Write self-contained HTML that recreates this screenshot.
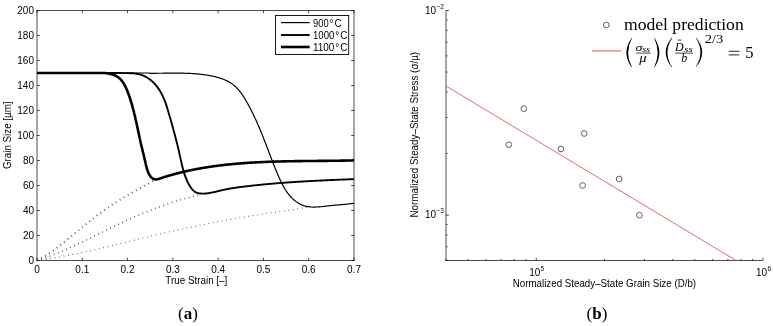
<!DOCTYPE html>
<html><head><meta charset="utf-8"><style>
html,body{margin:0;padding:0;background:#fff;}
svg{display:block;will-change:transform;}
text{font-family:"Liberation Sans",sans-serif;font-size:10px;fill:#000;}
.serif{font-family:"Liberation Serif",serif;}
</style></head><body>
<svg width="774" height="326" viewBox="0 0 774 326">
<path d="M36.5,10.5 H354.5 M36.5,260.5 H354.5" stroke="#505050" stroke-width="1" fill="none"/>
<path d="M37.0,10.5 V260.5 M354.0,10.5 V260.5" stroke="#000" stroke-width="0.7" fill="none"/>
<line x1="37.00" y1="260.5" x2="37.00" y2="257.7" stroke="#000" stroke-width="0.7"/>
<line x1="37.00" y1="10.5" x2="37.00" y2="13.3" stroke="#000" stroke-width="0.7"/>
<text x="37.00" y="273.20" text-anchor="middle">0</text>
<line x1="82.29" y1="260.5" x2="82.29" y2="257.7" stroke="#000" stroke-width="0.7"/>
<line x1="82.29" y1="10.5" x2="82.29" y2="13.3" stroke="#000" stroke-width="0.7"/>
<text x="82.29" y="273.20" text-anchor="middle">0.1</text>
<line x1="127.57" y1="260.5" x2="127.57" y2="257.7" stroke="#000" stroke-width="0.7"/>
<line x1="127.57" y1="10.5" x2="127.57" y2="13.3" stroke="#000" stroke-width="0.7"/>
<text x="127.57" y="273.20" text-anchor="middle">0.2</text>
<line x1="172.86" y1="260.5" x2="172.86" y2="257.7" stroke="#000" stroke-width="0.7"/>
<line x1="172.86" y1="10.5" x2="172.86" y2="13.3" stroke="#000" stroke-width="0.7"/>
<text x="172.86" y="273.20" text-anchor="middle">0.3</text>
<line x1="218.14" y1="260.5" x2="218.14" y2="257.7" stroke="#000" stroke-width="0.7"/>
<line x1="218.14" y1="10.5" x2="218.14" y2="13.3" stroke="#000" stroke-width="0.7"/>
<text x="218.14" y="273.20" text-anchor="middle">0.4</text>
<line x1="263.43" y1="260.5" x2="263.43" y2="257.7" stroke="#000" stroke-width="0.7"/>
<line x1="263.43" y1="10.5" x2="263.43" y2="13.3" stroke="#000" stroke-width="0.7"/>
<text x="263.43" y="273.20" text-anchor="middle">0.5</text>
<line x1="308.71" y1="260.5" x2="308.71" y2="257.7" stroke="#000" stroke-width="0.7"/>
<line x1="308.71" y1="10.5" x2="308.71" y2="13.3" stroke="#000" stroke-width="0.7"/>
<text x="308.71" y="273.20" text-anchor="middle">0.6</text>
<line x1="354.00" y1="260.5" x2="354.00" y2="257.7" stroke="#000" stroke-width="0.7"/>
<line x1="354.00" y1="10.5" x2="354.00" y2="13.3" stroke="#000" stroke-width="0.7"/>
<text x="354.00" y="273.20" text-anchor="middle">0.7</text>
<line x1="37.0" y1="260.50" x2="39.8" y2="260.50" stroke="#000" stroke-width="0.7"/>
<line x1="354.0" y1="260.50" x2="351.2" y2="260.50" stroke="#000" stroke-width="0.7"/>
<text x="34.00" y="264.40" text-anchor="end">0</text>
<line x1="37.0" y1="235.50" x2="39.8" y2="235.50" stroke="#000" stroke-width="0.7"/>
<line x1="354.0" y1="235.50" x2="351.2" y2="235.50" stroke="#000" stroke-width="0.7"/>
<text x="34.00" y="239.40" text-anchor="end">20</text>
<line x1="37.0" y1="210.50" x2="39.8" y2="210.50" stroke="#000" stroke-width="0.7"/>
<line x1="354.0" y1="210.50" x2="351.2" y2="210.50" stroke="#000" stroke-width="0.7"/>
<text x="34.00" y="214.40" text-anchor="end">40</text>
<line x1="37.0" y1="185.50" x2="39.8" y2="185.50" stroke="#000" stroke-width="0.7"/>
<line x1="354.0" y1="185.50" x2="351.2" y2="185.50" stroke="#000" stroke-width="0.7"/>
<text x="34.00" y="189.40" text-anchor="end">60</text>
<line x1="37.0" y1="160.50" x2="39.8" y2="160.50" stroke="#000" stroke-width="0.7"/>
<line x1="354.0" y1="160.50" x2="351.2" y2="160.50" stroke="#000" stroke-width="0.7"/>
<text x="34.00" y="164.40" text-anchor="end">80</text>
<line x1="37.0" y1="135.50" x2="39.8" y2="135.50" stroke="#000" stroke-width="0.7"/>
<line x1="354.0" y1="135.50" x2="351.2" y2="135.50" stroke="#000" stroke-width="0.7"/>
<text x="34.00" y="139.40" text-anchor="end">100</text>
<line x1="37.0" y1="110.50" x2="39.8" y2="110.50" stroke="#000" stroke-width="0.7"/>
<line x1="354.0" y1="110.50" x2="351.2" y2="110.50" stroke="#000" stroke-width="0.7"/>
<text x="34.00" y="114.40" text-anchor="end">120</text>
<line x1="37.0" y1="85.50" x2="39.8" y2="85.50" stroke="#000" stroke-width="0.7"/>
<line x1="354.0" y1="85.50" x2="351.2" y2="85.50" stroke="#000" stroke-width="0.7"/>
<text x="34.00" y="89.40" text-anchor="end">140</text>
<line x1="37.0" y1="60.50" x2="39.8" y2="60.50" stroke="#000" stroke-width="0.7"/>
<line x1="354.0" y1="60.50" x2="351.2" y2="60.50" stroke="#000" stroke-width="0.7"/>
<text x="34.00" y="64.40" text-anchor="end">160</text>
<line x1="37.0" y1="35.50" x2="39.8" y2="35.50" stroke="#000" stroke-width="0.7"/>
<line x1="354.0" y1="35.50" x2="351.2" y2="35.50" stroke="#000" stroke-width="0.7"/>
<text x="34.00" y="39.40" text-anchor="end">180</text>
<line x1="37.0" y1="10.50" x2="39.8" y2="10.50" stroke="#000" stroke-width="0.7"/>
<line x1="354.0" y1="10.50" x2="351.2" y2="10.50" stroke="#000" stroke-width="0.7"/>
<text x="34.00" y="14.40" text-anchor="end">200</text>
<path d="M37.00,73.00 L37.44,73.00 L37.87,73.00 L38.31,73.00 L38.74,73.00 L39.18,73.00 L39.61,73.00 L40.05,73.00 L40.48,73.00 L40.92,73.00 L41.36,73.00 L41.79,73.00 L42.23,73.00 L42.66,73.00 L43.10,73.00 L43.53,73.00 L43.97,73.00 L44.40,73.00 L44.84,73.00 L45.28,73.00 L45.71,73.00 L46.15,73.00 L46.58,73.00 L47.02,73.00 L47.45,73.00 L47.89,73.00 L48.33,73.00 L48.76,73.00 L49.20,73.00 L49.63,73.00 L50.07,73.00 L50.50,73.00 L50.94,73.00 L51.38,73.00 L51.81,73.00 L52.25,73.00 L52.68,73.00 L53.12,73.00 L53.56,73.00 L53.99,73.00 L54.43,73.00 L54.86,73.00 L55.30,73.00 L55.74,73.00 L56.17,73.00 L56.61,73.00 L57.04,73.00 L57.48,73.00 L57.92,73.00 L58.35,73.00 L58.79,73.00 L59.22,73.00 L59.66,73.00 L60.10,73.00 L60.53,73.00 L60.97,73.00 L61.40,73.00 L61.84,73.00 L62.28,73.00 L62.71,73.00 L63.15,73.00 L63.58,73.00 L64.02,73.00 L64.46,73.00 L64.89,73.00 L65.33,73.00 L65.76,73.00 L66.20,73.00 L66.64,73.00 L67.07,73.00 L67.51,73.00 L67.94,73.00 L68.38,73.00 L68.82,73.00 L69.25,73.00 L69.69,73.00 L70.12,73.00 L70.56,73.00 L71.00,73.00 L71.43,73.00 L71.87,73.00 L72.31,73.00 L72.74,73.00 L73.18,73.00 L73.61,73.00 L74.05,73.00 L74.49,73.00 L74.92,73.00 L75.36,73.00 L75.79,73.00 L76.23,73.00 L76.67,73.00 L77.10,73.00 L77.54,73.00 L77.97,73.00 L78.41,73.00 L78.85,73.00 L79.28,73.00 L79.72,73.00 L80.16,73.00 L80.59,73.00 L81.03,73.00 L81.46,73.00 L81.90,73.00 L82.34,73.00 L82.77,73.00 L83.21,73.00 L83.64,73.00 L84.08,73.00 L84.52,73.00 L84.95,73.00 L85.39,73.00 L85.82,73.00 L86.26,73.00 L86.70,73.00 L87.13,73.00 L87.57,73.00 L88.00,73.00 L88.44,73.00 L88.88,73.00 L89.31,73.00 L89.75,73.00 L90.18,73.00 L90.62,73.00 L91.06,73.00 L91.49,73.00 L91.93,73.00 L92.36,73.00 L92.80,73.00 L93.24,73.00 L93.67,73.00 L94.11,73.00 L94.54,73.00 L94.98,73.00 L95.42,73.00 L95.85,73.00 L96.29,73.00 L96.72,73.00 L97.16,73.00 L97.60,73.00 L98.03,73.00 L98.47,73.00 L98.90,73.00 L99.34,73.00 L99.78,73.00 L100.21,73.00 L100.65,73.00 L101.08,73.00 L101.52,73.00 L101.95,73.00 L102.39,73.00 L102.83,73.00 L103.26,73.00 L103.70,73.00 L104.13,73.00 L104.57,73.00 L105.00,73.00 L105.44,73.00 L105.88,73.00 L106.31,73.00 L106.75,73.00 L107.18,73.00 L107.62,73.00 L108.05,73.00 L108.49,73.00 L108.93,73.00 L109.36,73.00 L109.80,73.00 L110.23,73.00 L110.67,73.00 L111.10,73.00 L111.54,73.00 L111.97,73.00 L112.41,73.00 L112.85,73.00 L113.28,73.00 L113.72,73.00 L114.15,73.00 L114.59,73.00 L115.02,73.00 L115.46,73.00 L115.89,73.00 L116.33,73.00 L116.77,73.00 L117.20,73.00 L117.64,73.00 L118.07,73.00 L118.51,73.00 L118.94,73.00 L119.38,73.00 L119.81,73.00 L120.25,73.00 L120.69,73.00 L121.12,73.00 L121.56,73.00 L121.99,73.00 L122.43,73.00 L122.86,73.00 L123.30,73.00 L123.73,73.00 L124.17,73.00 L124.60,73.00 L125.04,73.00 L125.48,73.00 L125.91,73.00 L126.35,73.00 L126.78,73.00 L127.22,73.00 L127.65,73.00 L128.09,73.00 L128.52,73.00 L128.96,73.00 L129.40,73.00 L129.83,73.00 L130.27,73.00 L130.70,73.00 L131.14,73.00 L131.57,73.00 L132.01,73.00 L132.44,73.00 L132.88,73.00 L133.32,73.00 L133.75,73.00 L134.19,73.00 L134.62,73.00 L135.06,73.00 L135.49,73.00 L135.93,73.00 L136.37,73.00 L136.80,73.00 L137.24,73.00 L137.67,73.00 L138.11,73.00 L138.54,73.00 L138.98,73.00 L139.42,73.00 L139.85,73.00 L140.29,73.00 L140.72,73.00 L141.16,73.00 L141.59,73.00 L142.03,73.00 L142.47,73.00 L142.90,73.00 L143.34,73.00 L143.77,73.00 L144.21,73.00 L144.64,73.00 L145.08,73.00 L145.52,73.00 L145.95,73.00 L146.39,73.00 L146.82,73.00 L147.26,73.00 L147.70,73.00 L148.13,73.00 L148.57,73.00 L149.00,73.00 L149.44,73.00 L149.88,73.00 L150.31,73.29 L150.75,73.29 L151.18,73.29 L151.62,73.29 L152.06,73.29 L152.49,73.29 L152.93,73.29 L153.36,73.29 L153.80,73.28 L154.24,73.28 L154.67,73.28 L155.11,73.28 L155.55,73.28 L155.98,73.28 L156.42,73.28 L156.85,73.28 L157.29,73.27 L157.73,73.27 L158.16,73.27 L158.60,73.27 L159.04,73.26 L159.47,73.26 L159.91,73.26 L160.35,73.25 L160.78,73.25 L161.22,73.25 L161.66,73.24 L162.09,73.24 L162.53,73.23 L162.97,73.23 L163.40,73.22 L163.84,73.22 L164.28,73.21 L164.71,73.21 L165.15,73.20 L165.59,73.20 L166.02,73.20 L166.46,73.19 L166.90,73.19 L167.33,73.18 L167.77,73.18 L168.21,73.17 L168.64,73.17 L169.08,73.16 L169.52,73.16 L169.95,73.16 L170.39,73.15 L170.82,73.15 L171.26,73.14 L171.70,73.14 L172.13,73.14 L172.57,73.14 L173.01,73.13 L173.44,73.13 L173.88,73.13 L174.32,73.13 L174.75,73.13 L175.19,73.12 L175.63,73.12 L176.06,73.12 L176.50,73.12 L176.94,73.12 L177.37,73.13 L177.81,73.13 L178.24,73.13 L178.68,73.13 L179.12,73.13 L179.55,73.14 L179.99,73.14 L180.42,73.15 L180.86,73.15 L181.30,73.16 L181.73,73.16 L182.17,73.17 L182.60,73.18 L183.04,73.19 L183.47,73.20 L183.91,73.20 L184.35,73.21 L184.78,73.23 L185.22,73.24 L185.65,73.25 L186.09,73.26 L186.52,73.28 L186.96,73.29 L187.39,73.31 L187.83,73.32 L188.26,73.34 L188.70,73.36 L189.13,73.38 L189.57,73.40 L190.00,73.42 L190.44,73.44 L190.87,73.46 L191.31,73.49 L191.74,73.51 L192.17,73.54 L192.61,73.56 L193.04,73.59 L193.48,73.62 L193.91,73.65 L194.34,73.68 L194.78,73.71 L195.21,73.74 L195.65,73.78 L196.08,73.81 L196.51,73.85 L196.95,73.89 L197.38,73.93 L197.81,73.97 L198.25,74.01 L198.68,74.05 L199.11,74.09 L199.54,74.14 L199.98,74.19 L200.41,74.23 L200.84,74.28 L201.27,74.33 L201.71,74.38 L202.14,74.44 L202.57,74.49 L203.00,74.55 L203.43,74.60 L203.87,74.66 L204.30,74.72 L204.73,74.78 L205.16,74.85 L205.59,74.91 L206.02,74.98 L206.45,75.04 L206.88,75.11 L207.31,75.18 L207.74,75.26 L208.17,75.33 L208.60,75.41 L209.03,75.48 L209.46,75.56 L209.89,75.64 L210.32,75.72 L210.75,75.81 L211.18,75.89 L211.61,75.98 L212.04,76.07 L212.47,76.16 L212.90,76.25 L213.33,76.35 L213.76,76.44 L214.18,76.54 L214.61,76.64 L215.04,76.75 L215.47,76.85 L215.89,76.96 L216.32,77.06 L216.74,77.17 L217.17,77.29 L217.59,77.40 L218.02,77.52 L218.44,77.64 L218.86,77.76 L219.28,77.89 L219.70,78.02 L220.12,78.15 L220.54,78.28 L220.95,78.42 L221.37,78.56 L221.78,78.70 L222.19,78.84 L222.60,78.99 L223.01,79.14 L223.41,79.30 L223.82,79.45 L224.22,79.62 L224.62,79.78 L225.02,79.95 L225.42,80.12 L225.81,80.29 L226.20,80.47 L226.59,80.65 L226.98,80.84 L227.37,81.03 L227.75,81.22 L228.13,81.42 L228.51,81.62 L228.88,81.83 L229.25,82.04 L229.62,82.25 L229.99,82.47 L230.35,82.69 L230.72,82.91 L231.07,83.15 L231.43,83.38 L231.78,83.62 L232.13,83.86 L232.47,84.11 L232.81,84.37 L233.15,84.62 L233.48,84.89 L233.82,85.15 L234.14,85.43 L234.47,85.70 L234.79,85.98 L235.10,86.27 L235.42,86.56 L235.73,86.85 L236.04,87.15 L236.34,87.45 L236.64,87.76 L236.94,88.06 L237.24,88.38 L237.53,88.69 L237.82,89.01 L238.11,89.33 L238.40,89.66 L238.68,89.99 L238.96,90.32 L239.24,90.66 L239.51,91.00 L239.78,91.34 L240.05,91.68 L240.32,92.03 L240.58,92.38 L240.85,92.73 L241.11,93.08 L241.36,93.44 L241.62,93.80 L241.87,94.16 L242.13,94.52 L242.38,94.89 L242.62,95.25 L242.87,95.62 L243.11,95.99 L243.36,96.36 L243.60,96.74 L243.83,97.11 L244.07,97.49 L244.31,97.87 L244.54,98.25 L244.77,98.63 L245.00,99.01 L245.23,99.39 L245.46,99.77 L245.69,100.15 L245.91,100.54 L246.14,100.92 L246.36,101.31 L246.58,101.69 L246.80,102.08 L247.02,102.46 L247.24,102.85 L247.46,103.24 L247.68,103.62 L247.89,104.01 L248.11,104.40 L248.32,104.79 L248.53,105.17 L248.74,105.56 L248.95,105.95 L249.16,106.34 L249.37,106.73 L249.58,107.11 L249.79,107.50 L249.99,107.89 L250.20,108.28 L250.40,108.67 L250.60,109.06 L250.80,109.45 L251.01,109.84 L251.21,110.23 L251.40,110.62 L251.60,111.01 L251.80,111.41 L252.00,111.80 L252.19,112.19 L252.39,112.58 L252.58,112.97 L252.78,113.36 L252.97,113.76 L253.16,114.15 L253.35,114.54 L253.54,114.94 L253.73,115.33 L253.92,115.72 L254.11,116.12 L254.29,116.51 L254.48,116.90 L254.66,117.30 L254.85,117.69 L255.03,118.09 L255.22,118.48 L255.40,118.88 L255.58,119.27 L255.76,119.67 L255.94,120.06 L256.12,120.46 L256.30,120.86 L256.48,121.25 L256.66,121.65 L256.84,122.04 L257.01,122.44 L257.19,122.84 L257.36,123.23 L257.54,123.63 L257.71,124.03 L257.89,124.43 L258.06,124.82 L258.23,125.22 L258.40,125.62 L258.57,126.02 L258.74,126.42 L258.91,126.82 L259.08,127.22 L259.25,127.61 L259.42,128.01 L259.59,128.41 L259.76,128.81 L259.93,129.21 L260.09,129.61 L260.26,130.01 L260.42,130.41 L260.59,130.81 L260.75,131.21 L260.92,131.61 L261.08,132.01 L261.25,132.41 L261.41,132.82 L261.57,133.22 L261.73,133.62 L261.90,134.02 L262.06,134.42 L262.22,134.82 L262.38,135.22 L262.54,135.63 L262.70,136.03 L262.86,136.43 L263.02,136.83 L263.18,137.24 L263.34,137.64 L263.50,138.04 L263.65,138.45 L263.81,138.85 L263.97,139.25 L264.13,139.66 L264.28,140.06 L264.44,140.46 L264.60,140.87 L264.75,141.27 L264.91,141.67 L265.07,142.08 L265.22,142.48 L265.38,142.89 L265.53,143.29 L265.69,143.70 L265.84,144.10 L266.00,144.51 L266.15,144.91 L266.31,145.32 L266.46,145.72 L266.62,146.13 L266.77,146.53 L266.92,146.94 L267.08,147.35 L267.23,147.75 L267.39,148.16 L267.54,148.56 L267.69,148.97 L267.85,149.38 L268.00,149.78 L268.16,150.19 L268.31,150.59 L268.46,151.00 L268.62,151.41 L268.77,151.81 L268.92,152.22 L269.08,152.63 L269.23,153.03 L269.39,153.44 L269.54,153.85 L269.69,154.25 L269.85,154.66 L270.00,155.07 L270.16,155.47 L270.31,155.88 L270.47,156.29 L270.62,156.70 L270.78,157.10 L270.93,157.51 L271.09,157.92 L271.25,158.32 L271.40,158.73 L271.56,159.14 L271.71,159.54 L271.87,159.95 L272.03,160.36 L272.19,160.76 L272.34,161.17 L272.50,161.58 L272.66,161.98 L272.82,162.39 L272.98,162.80 L273.14,163.20 L273.30,163.61 L273.46,164.02 L273.62,164.42 L273.78,164.83 L273.94,165.24 L274.10,165.64 L274.27,166.05 L274.43,166.45 L274.59,166.86 L274.76,167.27 L274.92,167.67 L275.09,168.08 L275.25,168.48 L275.42,168.89 L275.58,169.29 L275.75,169.70 L275.92,170.10 L276.09,170.51 L276.25,170.91 L276.42,171.32 L276.59,171.72 L276.76,172.13 L276.93,172.53 L277.11,172.94 L277.28,173.34 L277.45,173.74 L277.63,174.15 L277.80,174.55 L277.97,174.95 L278.15,175.36 L278.33,175.76 L278.50,176.16 L278.68,176.57 L278.86,176.97 L279.04,177.37 L279.22,177.77 L279.40,178.17 L279.58,178.58 L279.77,178.98 L279.95,179.38 L280.14,179.78 L280.32,180.18 L280.51,180.58 L280.70,180.97 L280.89,181.37 L281.08,181.77 L281.27,182.16 L281.47,182.56 L281.66,182.95 L281.86,183.35 L282.06,183.74 L282.26,184.13 L282.46,184.52 L282.66,184.91 L282.87,185.30 L283.07,185.68 L283.28,186.07 L283.49,186.45 L283.71,186.83 L283.92,187.21 L284.14,187.59 L284.36,187.97 L284.58,188.34 L284.80,188.72 L285.03,189.09 L285.25,189.46 L285.48,189.83 L285.72,190.19 L285.95,190.56 L286.19,190.92 L286.43,191.28 L286.67,191.64 L286.92,191.99 L287.17,192.35 L287.42,192.70 L287.67,193.05 L287.93,193.39 L288.18,193.74 L288.45,194.08 L288.71,194.42 L288.98,194.75 L289.25,195.09 L289.52,195.42 L289.80,195.75 L290.08,196.07 L290.37,196.39 L290.65,196.71 L290.94,197.03 L291.24,197.34 L291.54,197.65 L291.84,197.96 L292.14,198.26 L292.45,198.57 L292.76,198.86 L293.08,199.16 L293.40,199.45 L293.72,199.73 L294.05,200.02 L294.38,200.30 L294.71,200.57 L295.05,200.84 L295.39,201.11 L295.73,201.37 L296.08,201.63 L296.43,201.88 L296.79,202.13 L297.15,202.37 L297.51,202.61 L297.87,202.84 L298.24,203.07 L298.61,203.29 L298.98,203.51 L299.36,203.72 L299.74,203.92 L300.12,204.12 L300.51,204.31 L300.90,204.50 L301.29,204.68 L301.69,204.85 L302.08,205.02 L302.48,205.18 L302.89,205.33 L303.29,205.48 L303.70,205.61 L304.11,205.74 L304.53,205.87 L304.94,205.98 L305.36,206.09 L305.78,206.20 L306.21,206.29 L306.63,206.38 L307.06,206.46 L307.49,206.54 L307.92,206.61 L308.35,206.67 L308.78,206.73 L309.21,206.79 L309.65,206.83 L310.08,206.88 L310.51,206.92 L310.95,206.95 L311.38,206.98 L311.82,207.00 L312.26,207.02 L312.69,207.04 L313.13,207.05 L313.57,207.05 L314.00,207.06 L314.44,207.06 L314.88,207.05 L315.32,207.04 L315.76,207.03 L316.19,207.02 L316.63,207.00 L317.07,206.98 L317.51,206.96 L317.95,206.93 L318.39,206.90 L318.83,206.87 L319.27,206.84 L319.71,206.80 L320.15,206.77 L320.59,206.73 L321.03,206.69 L321.47,206.64 L321.90,206.60 L322.34,206.56 L322.78,206.51 L323.22,206.46 L323.66,206.41 L324.10,206.37 L324.54,206.32 L324.98,206.27 L325.41,206.22 L325.85,206.17 L326.29,206.12 L326.72,206.07 L327.16,206.02 L327.60,205.97 L328.03,205.92 L328.47,205.87 L328.90,205.82 L329.34,205.77 L329.77,205.73 L330.21,205.68 L330.64,205.64 L331.07,205.59 L331.51,205.55 L331.94,205.50 L332.37,205.46 L332.80,205.42 L333.23,205.38 L333.67,205.34 L334.10,205.29 L334.53,205.25 L334.96,205.21 L335.39,205.17 L335.82,205.13 L336.25,205.09 L336.68,205.06 L337.11,205.02 L337.54,204.98 L337.97,204.94 L338.40,204.90 L338.83,204.86 L339.26,204.82 L339.69,204.78 L340.12,204.75 L340.55,204.71 L340.98,204.67 L341.41,204.63 L341.84,204.59 L342.27,204.55 L342.70,204.51 L343.13,204.47 L343.56,204.43 L344.00,204.39 L344.43,204.35 L344.86,204.31 L345.29,204.27 L345.72,204.23 L346.15,204.18 L346.59,204.14 L347.02,204.10 L347.45,204.05 L347.89,204.01 L348.32,203.96 L348.75,203.92 L349.19,203.87 L349.62,203.82 L350.06,203.77 L350.50,203.73 L350.93,203.68 L351.37,203.62 L351.81,203.57 L352.24,203.52 L352.68,203.47 L353.12,203.41 L353.56,203.36 L354.00,203.30" fill="none" stroke="#000" stroke-width="1.2" />
<path d="M37.00,73.00 L37.44,73.00 L37.89,73.00 L38.33,73.00 L38.77,73.00 L39.21,73.00 L39.66,73.00 L40.10,73.00 L40.54,73.00 L40.99,73.00 L41.43,73.00 L41.87,73.00 L42.31,73.00 L42.76,73.00 L43.20,73.00 L43.64,73.00 L44.08,73.00 L44.53,73.00 L44.97,73.00 L45.41,73.00 L45.85,73.00 L46.30,73.00 L46.74,73.00 L47.18,73.00 L47.63,73.00 L48.07,73.00 L48.51,73.00 L48.95,73.00 L49.40,73.00 L49.84,73.00 L50.28,73.00 L50.72,73.00 L51.17,73.00 L51.61,73.00 L52.05,73.00 L52.49,73.00 L52.94,73.00 L53.38,73.00 L53.82,73.00 L54.26,73.00 L54.71,73.00 L55.15,73.00 L55.59,73.00 L56.03,73.00 L56.48,73.00 L56.92,73.00 L57.36,73.00 L57.80,73.00 L58.25,73.00 L58.69,73.00 L59.13,73.00 L59.57,73.00 L60.02,73.00 L60.46,73.00 L60.90,73.00 L61.34,73.00 L61.79,73.00 L62.23,73.00 L62.67,73.00 L63.11,73.00 L63.56,73.00 L64.00,73.00 L64.44,73.00 L64.88,73.00 L65.33,73.00 L65.77,73.00 L66.21,73.00 L66.65,73.00 L67.10,73.00 L67.54,73.00 L67.98,73.00 L68.42,73.00 L68.87,73.00 L69.31,73.00 L69.75,73.00 L70.19,73.00 L70.64,73.00 L71.08,73.00 L71.52,73.00 L71.96,73.00 L72.41,73.00 L72.85,73.00 L73.29,73.00 L73.73,73.00 L74.18,73.00 L74.62,73.00 L75.06,73.00 L75.50,73.00 L75.95,73.00 L76.39,73.00 L76.83,73.00 L77.27,73.00 L77.72,73.00 L78.16,73.00 L78.60,73.00 L79.04,73.00 L79.49,73.00 L79.93,73.00 L80.37,73.00 L80.81,73.00 L81.26,73.00 L81.70,73.00 L82.14,73.00 L82.58,73.00 L83.03,73.00 L83.47,73.00 L83.91,73.00 L84.35,73.00 L84.80,73.00 L85.24,73.00 L85.68,73.00 L86.12,73.00 L86.57,73.00 L87.01,73.00 L87.45,73.00 L87.89,73.00 L88.34,73.00 L88.78,73.00 L89.22,73.00 L89.67,73.00 L90.11,73.00 L90.55,73.00 L90.99,73.00 L91.44,73.00 L91.88,73.00 L92.32,73.00 L92.76,73.00 L93.21,73.00 L93.65,73.00 L94.09,73.00 L94.53,73.00 L94.98,73.00 L95.42,73.00 L95.86,73.00 L96.31,73.00 L96.75,73.00 L97.19,73.00 L97.63,73.00 L98.08,73.00 L98.52,73.00 L98.96,73.00 L99.41,73.00 L99.85,73.00 L100.29,73.00 L100.73,73.00 L101.18,73.00 L101.62,73.00 L102.06,73.00 L102.51,73.00 L102.95,73.00 L103.39,73.00 L103.84,73.00 L104.28,73.00 L104.72,73.00 L105.16,73.00 L105.61,73.00 L106.05,73.00 L106.49,73.00 L106.94,73.00 L107.38,73.00 L107.82,73.00 L108.26,73.00 L108.71,73.00 L109.15,73.00 L109.59,73.00 L110.04,73.00 L110.48,73.00 L110.92,73.00 L111.36,73.00 L111.81,73.00 L112.25,73.00 L112.69,73.00 L113.14,73.00 L113.58,73.00 L114.02,73.00 L114.46,73.00 L114.91,73.00 L115.35,73.00 L115.79,73.00 L116.23,73.00 L116.68,73.00 L117.12,73.00 L117.56,73.00 L118.00,73.05 L118.45,73.06 L118.89,73.06 L119.33,73.06 L119.77,73.06 L120.22,73.07 L120.66,73.07 L121.10,73.07 L121.54,73.08 L121.98,73.08 L122.43,73.08 L122.87,73.09 L123.31,73.09 L123.75,73.10 L124.20,73.10 L124.64,73.11 L125.08,73.11 L125.52,73.12 L125.96,73.12 L126.40,73.13 L126.85,73.14 L127.29,73.14 L127.73,73.15 L128.17,73.16 L128.61,73.16 L129.05,73.17 L129.50,73.18 L129.94,73.19 L130.38,73.20 L130.82,73.22 L131.26,73.23 L131.70,73.25 L132.14,73.27 L132.58,73.30 L133.02,73.32 L133.46,73.35 L133.89,73.39 L134.33,73.43 L134.77,73.47 L135.20,73.52 L135.64,73.57 L136.08,73.63 L136.51,73.69 L136.95,73.76 L137.38,73.83 L137.81,73.92 L138.24,74.00 L138.67,74.10 L139.10,74.20 L139.53,74.31 L139.96,74.43 L140.39,74.55 L140.82,74.68 L141.24,74.82 L141.67,74.97 L142.09,75.13 L142.51,75.29 L142.93,75.46 L143.34,75.63 L143.75,75.82 L144.17,76.01 L144.57,76.20 L144.98,76.40 L145.38,76.61 L145.78,76.82 L146.18,77.04 L146.57,77.26 L146.96,77.49 L147.34,77.72 L147.72,77.96 L148.10,78.20 L148.47,78.45 L148.84,78.70 L149.20,78.96 L149.56,79.22 L149.91,79.48 L150.27,79.75 L150.61,80.02 L150.96,80.30 L151.30,80.58 L151.63,80.87 L151.96,81.16 L152.29,81.45 L152.61,81.75 L152.93,82.05 L153.25,82.35 L153.56,82.66 L153.87,82.97 L154.17,83.28 L154.47,83.60 L154.77,83.92 L155.07,84.25 L155.36,84.58 L155.64,84.91 L155.92,85.24 L156.20,85.58 L156.48,85.92 L156.75,86.27 L157.02,86.61 L157.29,86.96 L157.55,87.31 L157.81,87.67 L158.06,88.03 L158.32,88.39 L158.56,88.75 L158.81,89.12 L159.05,89.48 L159.29,89.85 L159.53,90.23 L159.76,90.60 L159.99,90.98 L160.22,91.36 L160.44,91.74 L160.66,92.12 L160.88,92.51 L161.09,92.89 L161.30,93.28 L161.51,93.67 L161.72,94.07 L161.92,94.46 L162.12,94.86 L162.32,95.25 L162.51,95.65 L162.71,96.05 L162.90,96.45 L163.08,96.86 L163.27,97.26 L163.45,97.66 L163.62,98.07 L163.80,98.48 L163.97,98.89 L164.14,99.29 L164.31,99.70 L164.48,100.12 L164.64,100.53 L164.80,100.94 L164.96,101.35 L165.12,101.77 L165.28,102.18 L165.43,102.60 L165.58,103.02 L165.73,103.43 L165.88,103.85 L166.02,104.27 L166.17,104.69 L166.31,105.11 L166.45,105.53 L166.59,105.95 L166.73,106.37 L166.86,106.79 L167.00,107.22 L167.13,107.64 L167.26,108.06 L167.40,108.49 L167.53,108.91 L167.66,109.33 L167.78,109.76 L167.91,110.18 L168.04,110.61 L168.17,111.03 L168.29,111.46 L168.42,111.88 L168.54,112.31 L168.66,112.74 L168.79,113.16 L168.91,113.59 L169.03,114.01 L169.15,114.44 L169.28,114.87 L169.40,115.29 L169.52,115.72 L169.64,116.14 L169.76,116.57 L169.88,117.00 L170.01,117.42 L170.13,117.85 L170.25,118.27 L170.37,118.70 L170.49,119.12 L170.61,119.55 L170.73,119.97 L170.85,120.40 L170.97,120.82 L171.09,121.25 L171.21,121.67 L171.33,122.10 L171.45,122.53 L171.57,122.95 L171.69,123.38 L171.81,123.80 L171.93,124.23 L172.04,124.65 L172.16,125.08 L172.28,125.50 L172.40,125.93 L172.52,126.35 L172.64,126.78 L172.75,127.20 L172.87,127.63 L172.99,128.05 L173.10,128.48 L173.22,128.90 L173.34,129.33 L173.45,129.76 L173.57,130.18 L173.68,130.61 L173.80,131.03 L173.92,131.46 L174.03,131.88 L174.15,132.31 L174.26,132.74 L174.37,133.16 L174.49,133.59 L174.60,134.01 L174.71,134.44 L174.83,134.87 L174.94,135.29 L175.05,135.72 L175.17,136.15 L175.28,136.57 L175.39,137.00 L175.50,137.43 L175.61,137.85 L175.72,138.28 L175.83,138.71 L175.94,139.13 L176.05,139.56 L176.16,139.99 L176.27,140.42 L176.38,140.84 L176.49,141.27 L176.60,141.70 L176.71,142.13 L176.82,142.56 L176.92,142.99 L177.03,143.41 L177.14,143.84 L177.24,144.27 L177.35,144.70 L177.46,145.13 L177.56,145.56 L177.67,145.99 L177.77,146.42 L177.87,146.85 L177.98,147.28 L178.08,147.71 L178.18,148.14 L178.29,148.57 L178.39,149.00 L178.49,149.43 L178.59,149.86 L178.69,150.30 L178.80,150.73 L178.90,151.16 L179.00,151.59 L179.10,152.02 L179.19,152.46 L179.29,152.89 L179.39,153.32 L179.49,153.76 L179.59,154.19 L179.68,154.62 L179.78,155.06 L179.88,155.49 L179.97,155.93 L180.07,156.36 L180.16,156.80 L180.26,157.23 L180.35,157.67 L180.45,158.10 L180.54,158.54 L180.64,158.97 L180.73,159.41 L180.83,159.84 L180.92,160.28 L181.02,160.71 L181.12,161.15 L181.21,161.58 L181.31,162.02 L181.41,162.45 L181.51,162.89 L181.61,163.32 L181.70,163.76 L181.81,164.19 L181.91,164.63 L182.01,165.06 L182.11,165.49 L182.22,165.93 L182.32,166.36 L182.43,166.79 L182.54,167.22 L182.65,167.65 L182.76,168.08 L182.87,168.51 L182.98,168.94 L183.10,169.37 L183.22,169.80 L183.34,170.23 L183.46,170.66 L183.58,171.09 L183.70,171.51 L183.83,171.94 L183.96,172.36 L184.09,172.79 L184.22,173.21 L184.35,173.63 L184.49,174.06 L184.63,174.48 L184.77,174.90 L184.91,175.32 L185.06,175.74 L185.21,176.15 L185.36,176.57 L185.52,176.99 L185.67,177.40 L185.83,177.81 L185.99,178.23 L186.16,178.64 L186.33,179.05 L186.50,179.46 L186.67,179.87 L186.85,180.28 L187.03,180.68 L187.22,181.09 L187.41,181.49 L187.60,181.89 L187.79,182.29 L187.99,182.69 L188.19,183.09 L188.40,183.49 L188.61,183.89 L188.82,184.28 L189.04,184.67 L189.26,185.06 L189.48,185.45 L189.71,185.84 L189.95,186.22 L190.19,186.60 L190.43,186.97 L190.68,187.34 L190.93,187.70 L191.19,188.05 L191.46,188.40 L191.73,188.74 L192.00,189.08 L192.29,189.40 L192.58,189.72 L192.87,190.03 L193.17,190.32 L193.48,190.61 L193.79,190.89 L194.12,191.15 L194.44,191.40 L194.78,191.65 L195.12,191.87 L195.47,192.09 L195.83,192.29 L196.20,192.47 L196.57,192.64 L196.96,192.80 L197.35,192.94 L197.75,193.06 L198.15,193.17 L198.57,193.26 L198.99,193.34 L199.41,193.40 L199.84,193.46 L200.28,193.50 L200.71,193.54 L201.15,193.56 L201.58,193.58 L202.02,193.60 L202.46,193.61 L202.89,193.61 L203.33,193.60 L203.77,193.59 L204.21,193.58 L204.64,193.56 L205.08,193.53 L205.52,193.50 L205.96,193.46 L206.40,193.42 L206.84,193.37 L207.28,193.32 L207.72,193.27 L208.16,193.21 L208.60,193.14 L209.04,193.08 L209.48,193.01 L209.92,192.93 L210.36,192.85 L210.80,192.77 L211.24,192.69 L211.68,192.60 L212.12,192.51 L212.56,192.42 L213.00,192.33 L213.44,192.23 L213.89,192.13 L214.33,192.04 L214.77,191.93 L215.21,191.83 L215.65,191.73 L216.09,191.62 L216.53,191.52 L216.97,191.41 L217.41,191.30 L217.86,191.20 L218.30,191.09 L218.74,190.98 L219.18,190.87 L219.62,190.77 L220.06,190.66 L220.50,190.56 L220.94,190.45 L221.38,190.35 L221.82,190.24 L222.26,190.14 L222.70,190.04 L223.14,189.94 L223.58,189.85 L224.02,189.75 L224.46,189.66 L224.90,189.57 L225.33,189.48 L225.77,189.39 L226.21,189.30 L226.65,189.21 L227.09,189.13 L227.53,189.04 L227.96,188.96 L228.40,188.88 L228.84,188.80 L229.28,188.72 L229.71,188.65 L230.15,188.57 L230.59,188.50 L231.03,188.42 L231.46,188.35 L231.90,188.28 L232.34,188.21 L232.77,188.14 L233.21,188.07 L233.65,188.00 L234.08,187.94 L234.52,187.87 L234.96,187.81 L235.39,187.74 L235.83,187.68 L236.27,187.62 L236.70,187.55 L237.14,187.49 L237.58,187.43 L238.01,187.37 L238.45,187.31 L238.89,187.26 L239.32,187.20 L239.76,187.14 L240.20,187.08 L240.63,187.03 L241.07,186.97 L241.51,186.92 L241.94,186.86 L242.38,186.81 L242.82,186.75 L243.25,186.70 L243.69,186.64 L244.13,186.59 L244.56,186.54 L245.00,186.48 L245.44,186.43 L245.88,186.38 L246.31,186.33 L246.75,186.28 L247.19,186.22 L247.63,186.17 L248.06,186.12 L248.50,186.07 L248.94,186.02 L249.38,185.97 L249.82,185.92 L250.25,185.87 L250.69,185.82 L251.13,185.77 L251.57,185.72 L252.01,185.67 L252.44,185.62 L252.88,185.58 L253.32,185.53 L253.76,185.48 L254.20,185.43 L254.64,185.38 L255.08,185.34 L255.51,185.29 L255.95,185.24 L256.39,185.20 L256.83,185.15 L257.27,185.11 L257.71,185.06 L258.15,185.01 L258.59,184.97 L259.03,184.92 L259.47,184.88 L259.91,184.84 L260.34,184.79 L260.78,184.75 L261.22,184.70 L261.66,184.66 L262.10,184.62 L262.54,184.57 L262.98,184.53 L263.42,184.49 L263.86,184.45 L264.30,184.40 L264.74,184.36 L265.18,184.32 L265.62,184.28 L266.06,184.24 L266.50,184.20 L266.94,184.16 L267.38,184.12 L267.82,184.08 L268.26,184.03 L268.70,183.99 L269.14,183.96 L269.58,183.92 L270.02,183.88 L270.46,183.84 L270.90,183.80 L271.35,183.76 L271.79,183.72 L272.23,183.68 L272.67,183.65 L273.11,183.61 L273.55,183.57 L273.99,183.53 L274.43,183.50 L274.87,183.46 L275.31,183.42 L275.75,183.38 L276.19,183.35 L276.64,183.31 L277.08,183.28 L277.52,183.24 L277.96,183.20 L278.40,183.17 L278.84,183.13 L279.28,183.10 L279.72,183.06 L280.16,183.03 L280.61,183.00 L281.05,182.96 L281.49,182.93 L281.93,182.89 L282.37,182.86 L282.81,182.83 L283.26,182.79 L283.70,182.76 L284.14,182.73 L284.58,182.69 L285.02,182.66 L285.46,182.63 L285.91,182.60 L286.35,182.56 L286.79,182.53 L287.23,182.50 L287.67,182.47 L288.11,182.44 L288.56,182.41 L289.00,182.37 L289.44,182.34 L289.88,182.31 L290.32,182.28 L290.77,182.25 L291.21,182.22 L291.65,182.19 L292.09,182.16 L292.53,182.13 L292.98,182.10 L293.42,182.07 L293.86,182.04 L294.30,182.01 L294.75,181.99 L295.19,181.96 L295.63,181.93 L296.07,181.90 L296.51,181.87 L296.96,181.84 L297.40,181.81 L297.84,181.79 L298.28,181.76 L298.73,181.73 L299.17,181.70 L299.61,181.68 L300.05,181.65 L300.50,181.62 L300.94,181.60 L301.38,181.57 L301.82,181.54 L302.27,181.52 L302.71,181.49 L303.15,181.46 L303.59,181.44 L304.04,181.41 L304.48,181.39 L304.92,181.36 L305.36,181.33 L305.81,181.31 L306.25,181.28 L306.69,181.26 L307.13,181.23 L307.58,181.21 L308.02,181.18 L308.46,181.16 L308.90,181.13 L309.35,181.11 L309.79,181.09 L310.23,181.06 L310.67,181.04 L311.12,181.01 L311.56,180.99 L312.00,180.97 L312.44,180.94 L312.89,180.92 L313.33,180.90 L313.77,180.87 L314.22,180.85 L314.66,180.83 L315.10,180.80 L315.54,180.78 L315.99,180.76 L316.43,180.74 L316.87,180.71 L317.31,180.69 L317.76,180.67 L318.20,180.65 L318.64,180.62 L319.08,180.60 L319.53,180.58 L319.97,180.56 L320.41,180.54 L320.85,180.52 L321.30,180.49 L321.74,180.47 L322.18,180.45 L322.62,180.43 L323.07,180.41 L323.51,180.39 L323.95,180.37 L324.39,180.35 L324.84,180.33 L325.28,180.31 L325.72,180.29 L326.16,180.26 L326.61,180.24 L327.05,180.22 L327.49,180.20 L327.93,180.18 L328.38,180.16 L328.82,180.14 L329.26,180.12 L329.70,180.10 L330.15,180.08 L330.59,180.06 L331.03,180.05 L331.47,180.03 L331.92,180.01 L332.36,179.99 L332.80,179.97 L333.24,179.95 L333.68,179.93 L334.13,179.91 L334.57,179.89 L335.01,179.87 L335.45,179.85 L335.90,179.83 L336.34,179.82 L336.78,179.80 L337.22,179.78 L337.66,179.76 L338.11,179.74 L338.55,179.72 L338.99,179.70 L339.43,179.69 L339.87,179.67 L340.32,179.65 L340.76,179.63 L341.20,179.61 L341.64,179.59 L342.08,179.58 L342.52,179.56 L342.97,179.54 L343.41,179.52 L343.85,179.50 L344.29,179.49 L344.73,179.47 L345.17,179.45 L345.62,179.43 L346.06,179.42 L346.50,179.40 L346.94,179.38 L347.38,179.36 L347.82,179.35 L348.26,179.33 L348.71,179.31 L349.15,179.29 L349.59,179.28 L350.03,179.26 L350.47,179.24 L350.91,179.22 L351.35,179.21 L351.79,179.19 L352.23,179.17 L352.68,179.15 L353.12,179.14 L353.56,179.12 L354.00,179.10" fill="none" stroke="#000" stroke-width="1.9" />
<path d="M37.00,73.00 L37.44,73.00 L37.87,73.00 L38.31,73.00 L38.75,73.00 L39.18,73.00 L39.62,73.00 L40.06,73.00 L40.50,73.00 L40.93,73.00 L41.37,73.00 L41.81,73.00 L42.24,73.00 L42.68,73.00 L43.12,73.00 L43.56,73.00 L43.99,73.00 L44.43,73.00 L44.87,73.00 L45.31,73.00 L45.74,73.00 L46.18,73.00 L46.62,73.00 L47.05,73.00 L47.49,73.00 L47.93,73.00 L48.37,73.00 L48.81,73.00 L49.24,73.00 L49.68,73.00 L50.12,73.00 L50.56,73.00 L50.99,73.00 L51.43,73.00 L51.87,73.00 L52.31,73.00 L52.74,73.00 L53.18,73.00 L53.62,73.00 L54.06,73.00 L54.50,73.00 L54.93,73.00 L55.37,73.00 L55.81,73.00 L56.25,73.00 L56.69,73.00 L57.12,73.00 L57.56,73.00 L58.00,73.00 L58.44,73.00 L58.87,73.00 L59.31,73.00 L59.75,73.00 L60.19,73.00 L60.63,73.00 L61.06,73.00 L61.50,73.00 L61.94,73.00 L62.38,73.00 L62.82,73.00 L63.25,73.00 L63.69,73.00 L64.13,73.00 L64.57,73.00 L65.01,73.00 L65.44,73.00 L65.88,73.00 L66.32,73.00 L66.76,73.00 L67.20,73.00 L67.63,73.00 L68.07,73.00 L68.51,73.00 L68.95,73.00 L69.38,73.00 L69.82,73.00 L70.26,73.00 L70.70,73.00 L71.14,73.00 L71.57,73.00 L72.01,73.00 L72.45,73.00 L72.89,73.00 L73.33,73.00 L73.76,73.00 L74.20,73.00 L74.64,73.00 L75.08,73.00 L75.51,73.00 L75.95,73.00 L76.39,73.00 L76.83,73.00 L77.26,73.00 L77.70,73.00 L78.14,73.00 L78.58,73.00 L79.01,73.00 L79.45,73.00 L79.89,73.00 L80.33,73.00 L80.76,73.00 L81.20,73.00 L81.64,73.00 L82.07,73.00 L82.51,73.00 L82.95,73.00 L83.39,73.00 L83.82,73.00 L84.26,73.00 L84.70,73.00 L85.13,73.00 L85.57,73.00 L86.01,73.00 L86.44,73.00 L86.88,73.00 L87.32,73.00 L87.76,73.00 L88.19,73.00 L88.63,73.00 L89.07,73.00 L89.50,73.00 L89.94,73.00 L90.37,73.00 L90.81,73.00 L91.25,73.00 L91.68,73.00 L92.12,73.00 L92.56,73.00 L92.99,73.00 L93.43,73.00 L93.86,73.00 L94.30,73.00 L94.74,73.00 L95.17,73.00 L95.61,73.00 L96.05,73.00 L96.48,73.00 L96.92,73.00 L97.35,73.00 L97.79,73.00 L98.23,73.00 L98.66,73.00 L99.10,73.00 L99.54,73.00 L99.97,73.00 L100.41,73.00 L100.85,73.00 L101.29,73.00 L101.72,73.00 L102.16,73.00 L102.60,73.00 L103.04,73.00 L103.48,73.00 L103.92,73.00 L104.35,73.00 L104.79,73.03 L105.23,73.07 L105.67,73.12 L106.11,73.17 L106.55,73.22 L107.00,73.28 L107.44,73.35 L107.88,73.42 L108.32,73.50 L108.76,73.58 L109.20,73.67 L109.64,73.76 L110.07,73.86 L110.51,73.96 L110.94,74.08 L111.37,74.19 L111.80,74.32 L112.23,74.45 L112.65,74.58 L113.07,74.72 L113.48,74.87 L113.89,75.03 L114.30,75.20 L114.70,75.37 L115.10,75.54 L115.49,75.73 L115.87,75.92 L116.25,76.12 L116.63,76.33 L116.99,76.55 L117.35,76.77 L117.71,77.01 L118.05,77.25 L118.39,77.50 L118.73,77.75 L119.05,78.02 L119.37,78.29 L119.68,78.57 L119.99,78.85 L120.29,79.15 L120.59,79.44 L120.87,79.75 L121.16,80.06 L121.43,80.38 L121.71,80.70 L121.97,81.03 L122.23,81.37 L122.49,81.71 L122.74,82.05 L122.99,82.40 L123.23,82.76 L123.46,83.12 L123.69,83.48 L123.92,83.85 L124.14,84.23 L124.36,84.60 L124.58,84.99 L124.79,85.37 L124.99,85.76 L125.20,86.15 L125.39,86.55 L125.59,86.94 L125.78,87.35 L125.97,87.75 L126.16,88.15 L126.34,88.56 L126.52,88.97 L126.70,89.39 L126.87,89.80 L127.04,90.22 L127.21,90.63 L127.38,91.05 L127.54,91.47 L127.70,91.89 L127.86,92.31 L128.02,92.73 L128.18,93.16 L128.33,93.58 L128.49,94.00 L128.64,94.42 L128.79,94.85 L128.94,95.27 L129.09,95.69 L129.24,96.11 L129.38,96.54 L129.52,96.96 L129.67,97.38 L129.81,97.80 L129.95,98.22 L130.09,98.65 L130.22,99.07 L130.36,99.49 L130.50,99.91 L130.63,100.33 L130.76,100.76 L130.89,101.18 L131.02,101.60 L131.15,102.02 L131.28,102.45 L131.41,102.87 L131.53,103.29 L131.66,103.71 L131.78,104.13 L131.90,104.56 L132.02,104.98 L132.14,105.40 L132.26,105.82 L132.38,106.24 L132.50,106.67 L132.62,107.09 L132.73,107.51 L132.85,107.93 L132.96,108.36 L133.07,108.78 L133.18,109.20 L133.30,109.62 L133.41,110.04 L133.52,110.47 L133.62,110.89 L133.73,111.31 L133.84,111.73 L133.95,112.16 L134.05,112.58 L134.16,113.00 L134.26,113.42 L134.36,113.85 L134.47,114.27 L134.57,114.69 L134.67,115.11 L134.77,115.54 L134.87,115.96 L134.97,116.38 L135.07,116.81 L135.17,117.23 L135.27,117.65 L135.37,118.07 L135.46,118.50 L135.56,118.92 L135.66,119.34 L135.75,119.77 L135.85,120.19 L135.94,120.61 L136.04,121.04 L136.13,121.46 L136.23,121.88 L136.32,122.31 L136.41,122.73 L136.51,123.16 L136.60,123.58 L136.69,124.00 L136.78,124.43 L136.88,124.85 L136.97,125.27 L137.06,125.70 L137.15,126.12 L137.24,126.55 L137.33,126.97 L137.42,127.40 L137.51,127.82 L137.60,128.25 L137.69,128.67 L137.78,129.10 L137.87,129.52 L137.96,129.95 L138.05,130.37 L138.14,130.80 L138.23,131.22 L138.32,131.65 L138.41,132.07 L138.50,132.50 L138.59,132.92 L138.68,133.35 L138.78,133.77 L138.87,134.20 L138.96,134.63 L139.05,135.05 L139.14,135.48 L139.23,135.91 L139.32,136.33 L139.41,136.76 L139.50,137.19 L139.60,137.61 L139.69,138.04 L139.78,138.47 L139.88,138.89 L139.97,139.32 L140.06,139.75 L140.16,140.18 L140.25,140.60 L140.35,141.03 L140.44,141.46 L140.54,141.89 L140.63,142.32 L140.73,142.75 L140.83,143.17 L140.92,143.60 L141.02,144.03 L141.12,144.46 L141.22,144.89 L141.32,145.32 L141.42,145.75 L141.52,146.18 L141.62,146.61 L141.72,147.04 L141.83,147.47 L141.93,147.90 L142.03,148.33 L142.14,148.76 L142.24,149.19 L142.35,149.62 L142.45,150.05 L142.56,150.48 L142.66,150.91 L142.77,151.34 L142.87,151.77 L142.98,152.20 L143.08,152.62 L143.19,153.05 L143.29,153.48 L143.40,153.91 L143.50,154.33 L143.61,154.76 L143.71,155.19 L143.82,155.61 L143.92,156.03 L144.02,156.46 L144.13,156.88 L144.23,157.30 L144.33,157.72 L144.43,158.15 L144.53,158.56 L144.62,158.98 L144.72,159.40 L144.82,159.82 L144.91,160.23 L145.01,160.65 L145.10,161.06 L145.19,161.47 L145.29,161.89 L145.38,162.30 L145.47,162.71 L145.56,163.12 L145.65,163.54 L145.75,163.96 L145.85,164.38 L145.94,164.80 L146.05,165.22 L146.15,165.65 L146.26,166.08 L146.37,166.52 L146.48,166.96 L146.60,167.40 L146.72,167.85 L146.85,168.31 L146.98,168.77 L147.12,169.23 L147.26,169.69 L147.41,170.15 L147.57,170.62 L147.73,171.08 L147.90,171.54 L148.08,172.00 L148.27,172.45 L148.46,172.90 L148.66,173.35 L148.88,173.78 L149.10,174.21 L149.33,174.63 L149.57,175.03 L149.82,175.43 L150.09,175.82 L150.36,176.19 L150.65,176.55 L150.94,176.89 L151.25,177.22 L151.57,177.53 L151.89,177.82 L152.23,178.09 L152.57,178.34 L152.92,178.56 L153.28,178.77 L153.64,178.95 L154.02,179.10 L154.39,179.23 L154.78,179.33 L155.17,179.40 L155.56,179.44 L155.96,179.44 L156.36,179.42 L156.76,179.38 L157.17,179.31 L157.58,179.22 L157.99,179.12 L158.40,179.00 L158.82,178.87 L159.24,178.74 L159.65,178.60 L160.07,178.46 L160.49,178.32 L160.91,178.18 L161.32,178.04 L161.74,177.91 L162.16,177.77 L162.58,177.63 L163.00,177.50 L163.42,177.37 L163.84,177.23 L164.25,177.10 L164.67,176.97 L165.09,176.84 L165.51,176.71 L165.93,176.58 L166.35,176.45 L166.77,176.32 L167.19,176.20 L167.61,176.07 L168.03,175.94 L168.45,175.82 L168.87,175.69 L169.30,175.57 L169.72,175.45 L170.14,175.33 L170.56,175.20 L170.98,175.08 L171.40,174.96 L171.82,174.85 L172.25,174.73 L172.67,174.61 L173.09,174.49 L173.51,174.38 L173.94,174.26 L174.36,174.14 L174.78,174.03 L175.20,173.92 L175.63,173.80 L176.05,173.69 L176.47,173.58 L176.90,173.47 L177.32,173.36 L177.75,173.25 L178.17,173.14 L178.59,173.03 L179.02,172.93 L179.44,172.82 L179.87,172.71 L180.29,172.61 L180.72,172.50 L181.14,172.40 L181.57,172.29 L181.99,172.19 L182.42,172.09 L182.84,171.99 L183.27,171.89 L183.69,171.79 L184.12,171.69 L184.55,171.59 L184.97,171.49 L185.40,171.39 L185.82,171.30 L186.25,171.20 L186.68,171.10 L187.10,171.01 L187.53,170.91 L187.96,170.82 L188.38,170.73 L188.81,170.63 L189.24,170.54 L189.67,170.45 L190.09,170.36 L190.52,170.27 L190.95,170.18 L191.38,170.09 L191.81,170.00 L192.23,169.92 L192.66,169.83 L193.09,169.74 L193.52,169.66 L193.95,169.57 L194.38,169.49 L194.80,169.40 L195.23,169.32 L195.66,169.24 L196.09,169.15 L196.52,169.07 L196.95,168.99 L197.38,168.91 L197.81,168.83 L198.24,168.75 L198.67,168.67 L199.10,168.59 L199.53,168.51 L199.96,168.44 L200.39,168.36 L200.82,168.28 L201.25,168.21 L201.68,168.13 L202.11,168.06 L202.54,167.99 L202.97,167.91 L203.40,167.84 L203.83,167.77 L204.26,167.69 L204.69,167.62 L205.13,167.55 L205.56,167.48 L205.99,167.41 L206.42,167.34 L206.85,167.28 L207.28,167.21 L207.71,167.14 L208.15,167.07 L208.58,167.01 L209.01,166.94 L209.44,166.88 L209.87,166.81 L210.31,166.75 L210.74,166.68 L211.17,166.62 L211.60,166.56 L212.04,166.49 L212.47,166.43 L212.90,166.37 L213.33,166.31 L213.77,166.25 L214.20,166.19 L214.63,166.13 L215.07,166.07 L215.50,166.01 L215.93,165.95 L216.37,165.90 L216.80,165.84 L217.23,165.78 L217.67,165.73 L218.10,165.67 L218.53,165.62 L218.97,165.56 L219.40,165.51 L219.83,165.45 L220.27,165.40 L220.70,165.35 L221.14,165.29 L221.57,165.24 L222.01,165.19 L222.44,165.14 L222.87,165.09 L223.31,165.04 L223.74,164.99 L224.18,164.94 L224.61,164.89 L225.05,164.84 L225.48,164.79 L225.92,164.75 L226.35,164.70 L226.79,164.65 L227.22,164.61 L227.66,164.56 L228.09,164.52 L228.53,164.47 L228.96,164.43 L229.40,164.38 L229.83,164.34 L230.27,164.29 L230.70,164.25 L231.14,164.21 L231.57,164.17 L232.01,164.12 L232.44,164.08 L232.88,164.04 L233.31,164.00 L233.75,163.96 L234.19,163.92 L234.62,163.88 L235.06,163.84 L235.49,163.80 L235.93,163.77 L236.36,163.73 L236.80,163.69 L237.24,163.65 L237.67,163.62 L238.11,163.58 L238.54,163.54 L238.98,163.51 L239.42,163.47 L239.85,163.44 L240.29,163.40 L240.72,163.37 L241.16,163.33 L241.60,163.30 L242.03,163.27 L242.47,163.23 L242.91,163.20 L243.34,163.17 L243.78,163.14 L244.22,163.11 L244.65,163.08 L245.09,163.04 L245.53,163.01 L245.96,162.98 L246.40,162.95 L246.84,162.92 L247.27,162.89 L247.71,162.87 L248.15,162.84 L248.58,162.81 L249.02,162.78 L249.46,162.75 L249.89,162.73 L250.33,162.70 L250.77,162.67 L251.20,162.65 L251.64,162.62 L252.08,162.59 L252.51,162.57 L252.95,162.54 L253.39,162.52 L253.82,162.49 L254.26,162.47 L254.70,162.44 L255.13,162.42 L255.57,162.40 L256.01,162.37 L256.44,162.35 L256.88,162.33 L257.32,162.30 L257.76,162.28 L258.19,162.26 L258.63,162.24 L259.07,162.22 L259.50,162.20 L259.94,162.18 L260.38,162.15 L260.81,162.13 L261.25,162.11 L261.69,162.09 L262.13,162.07 L262.56,162.05 L263.00,162.04 L263.44,162.02 L263.87,162.00 L264.31,161.98 L264.75,161.96 L265.19,161.94 L265.62,161.93 L266.06,161.91 L266.50,161.89 L266.94,161.87 L267.37,161.86 L267.81,161.84 L268.25,161.82 L268.68,161.81 L269.12,161.79 L269.56,161.78 L270.00,161.76 L270.43,161.75 L270.87,161.73 L271.31,161.72 L271.75,161.70 L272.18,161.69 L272.62,161.67 L273.06,161.66 L273.50,161.64 L273.93,161.63 L274.37,161.62 L274.81,161.60 L275.24,161.59 L275.68,161.58 L276.12,161.57 L276.56,161.55 L276.99,161.54 L277.43,161.53 L277.87,161.52 L278.31,161.50 L278.74,161.49 L279.18,161.48 L279.62,161.47 L280.06,161.46 L280.49,161.45 L280.93,161.44 L281.37,161.43 L281.81,161.42 L282.24,161.41 L282.68,161.40 L283.12,161.39 L283.56,161.38 L283.99,161.37 L284.43,161.36 L284.87,161.35 L285.31,161.34 L285.74,161.33 L286.18,161.32 L286.62,161.31 L287.06,161.30 L287.50,161.29 L287.93,161.29 L288.37,161.28 L288.81,161.27 L289.25,161.26 L289.68,161.25 L290.12,161.25 L290.56,161.24 L291.00,161.23 L291.43,161.22 L291.87,161.22 L292.31,161.21 L292.75,161.20 L293.18,161.20 L293.62,161.19 L294.06,161.18 L294.50,161.17 L294.94,161.17 L295.37,161.16 L295.81,161.16 L296.25,161.15 L296.69,161.14 L297.12,161.14 L297.56,161.13 L298.00,161.13 L298.44,161.12 L298.87,161.11 L299.31,161.11 L299.75,161.10 L300.19,161.10 L300.63,161.09 L301.06,161.09 L301.50,161.08 L301.94,161.08 L302.38,161.07 L302.81,161.07 L303.25,161.06 L303.69,161.06 L304.13,161.05 L304.56,161.05 L305.00,161.04 L305.44,161.04 L305.88,161.03 L306.32,161.03 L306.75,161.02 L307.19,161.02 L307.63,161.01 L308.07,161.01 L308.50,161.01 L308.94,161.00 L309.38,161.00 L309.82,160.99 L310.25,160.99 L310.69,160.98 L311.13,160.98 L311.57,160.98 L312.01,160.97 L312.44,160.97 L312.88,160.96 L313.32,160.96 L313.76,160.96 L314.19,160.95 L314.63,160.95 L315.07,160.94 L315.51,160.94 L315.94,160.94 L316.38,160.93 L316.82,160.93 L317.26,160.92 L317.70,160.92 L318.13,160.92 L318.57,160.91 L319.01,160.91 L319.45,160.90 L319.88,160.90 L320.32,160.90 L320.76,160.89 L321.20,160.89 L321.63,160.88 L322.07,160.88 L322.51,160.88 L322.95,160.87 L323.38,160.87 L323.82,160.86 L324.26,160.86 L324.70,160.85 L325.14,160.85 L325.57,160.85 L326.01,160.84 L326.45,160.84 L326.89,160.83 L327.32,160.83 L327.76,160.82 L328.20,160.82 L328.64,160.81 L329.07,160.81 L329.51,160.81 L329.95,160.80 L330.39,160.80 L330.82,160.79 L331.26,160.79 L331.70,160.78 L332.14,160.78 L332.57,160.77 L333.01,160.77 L333.45,160.76 L333.89,160.75 L334.32,160.75 L334.76,160.74 L335.20,160.74 L335.64,160.73 L336.07,160.73 L336.51,160.72 L336.95,160.71 L337.39,160.71 L337.82,160.70 L338.26,160.70 L338.70,160.69 L339.13,160.68 L339.57,160.68 L340.01,160.67 L340.45,160.66 L340.88,160.66 L341.32,160.65 L341.76,160.64 L342.20,160.64 L342.63,160.63 L343.07,160.62 L343.51,160.61 L343.95,160.61 L344.38,160.60 L344.82,160.59 L345.26,160.58 L345.69,160.57 L346.13,160.57 L346.57,160.56 L347.01,160.55 L347.44,160.54 L347.88,160.53 L348.32,160.52 L348.75,160.51 L349.19,160.50 L349.63,160.49 L350.07,160.48 L350.50,160.48 L350.94,160.47 L351.38,160.46 L351.81,160.45 L352.25,160.43 L352.69,160.42 L353.13,160.41 L353.56,160.40 L354.00,160.39" fill="none" stroke="#000" stroke-width="2.6" />
<path d="M37.00,260.40 L40.44,259.97 L43.89,259.51 L47.33,259.02 L50.77,258.49 L54.22,257.93 L57.66,257.35 L61.10,256.74 L64.54,256.10 L67.99,255.44 L71.43,254.76 L74.87,254.06 L78.32,253.35 L81.76,252.61 L85.20,251.86 L88.65,251.09 L92.09,250.31 L95.53,249.52 L98.97,248.72 L102.42,247.92 L105.86,247.10 L109.30,246.27 L112.75,245.45 L116.19,244.61 L119.63,243.77 L123.08,242.93 L126.52,242.09 L129.96,241.25 L133.41,240.41 L136.85,239.57 L140.29,238.73 L143.73,237.90 L147.18,237.07 L150.62,236.24 L154.06,235.42 L157.51,234.60 L160.95,233.79 L164.39,232.99 L167.84,232.19 L171.28,231.41 L174.72,230.63 L178.16,229.85 L181.61,229.09 L185.05,228.34 L188.49,227.60 L191.94,226.86 L195.38,226.14 L198.82,225.43 L202.27,224.73 L205.71,224.04 L209.15,223.36 L212.59,222.69 L216.04,222.03 L219.48,221.38 L222.92,220.74 L226.37,220.12 L229.81,219.50 L233.25,218.89 L236.70,218.30 L240.14,217.71 L243.58,217.14 L247.03,216.57 L250.47,216.01 L253.91,215.46 L257.35,214.92 L260.80,214.38 L264.24,213.85 L267.68,213.33 L271.13,212.81 L274.57,212.30 L278.01,211.80 L281.46,211.29 L284.90,210.79 L288.34,210.29 L291.78,209.80 L295.23,209.30 L298.67,208.81 L302.11,208.31 L305.56,207.81 L309.00,207.30" fill="none" stroke="#333" stroke-width="1.1" stroke-dasharray="0.7 3.8"/>
<path d="M37.00,260.40 L39.07,259.79 L41.13,259.15 L43.20,258.48 L45.27,257.78 L47.34,257.05 L49.40,256.30 L51.47,255.53 L53.54,254.74 L55.60,253.92 L57.67,253.08 L59.74,252.23 L61.81,251.35 L63.87,250.46 L65.94,249.56 L68.01,248.64 L70.07,247.70 L72.14,246.75 L74.21,245.80 L76.27,244.83 L78.34,243.85 L80.41,242.87 L82.48,241.87 L84.54,240.87 L86.61,239.87 L88.68,238.86 L90.74,237.85 L92.81,236.83 L94.88,235.81 L96.95,234.79 L99.01,233.77 L101.08,232.75 L103.15,231.73 L105.21,230.72 L107.28,229.70 L109.35,228.69 L111.42,227.69 L113.48,226.69 L115.55,225.69 L117.62,224.70 L119.68,223.71 L121.75,222.74 L123.82,221.77 L125.88,220.81 L127.95,219.86 L130.02,218.91 L132.09,217.98 L134.15,217.06 L136.22,216.15 L138.29,215.25 L140.35,214.36 L142.42,213.48 L144.49,212.62 L146.56,211.77 L148.62,210.93 L150.69,210.11 L152.76,209.29 L154.82,208.50 L156.89,207.72 L158.96,206.95 L161.03,206.20 L163.09,205.46 L165.16,204.74 L167.23,204.03 L169.29,203.34 L171.36,202.66 L173.43,202.00 L175.49,201.36 L177.56,200.73 L179.63,200.12 L181.70,199.53 L183.76,198.95 L185.83,198.38 L187.90,197.84 L189.96,197.31 L192.03,196.79 L194.10,196.29 L196.17,195.81 L198.23,195.34 L200.30,194.89" fill="none" stroke="#333" stroke-width="1.6" stroke-dasharray="0.7 3.75"/>
<path d="M37.00,260.40 L38.49,259.69 L39.99,258.94 L41.48,258.14 L42.97,257.30 L44.47,256.42 L45.96,255.51 L47.46,254.55 L48.95,253.57 L50.44,252.55 L51.94,251.50 L53.43,250.43 L54.92,249.34 L56.42,248.22 L57.91,247.08 L59.41,245.93 L60.90,244.75 L62.39,243.57 L63.89,242.37 L65.38,241.16 L66.87,239.94 L68.37,238.72 L69.86,237.49 L71.35,236.25 L72.85,235.01 L74.34,233.77 L75.84,232.53 L77.33,231.29 L78.82,230.06 L80.32,228.82 L81.81,227.59 L83.30,226.37 L84.80,225.15 L86.29,223.94 L87.78,222.74 L89.28,221.55 L90.77,220.37 L92.27,219.19 L93.76,218.03 L95.25,216.88 L96.75,215.74 L98.24,214.62 L99.73,213.51 L101.23,212.41 L102.72,211.32 L104.22,210.25 L105.71,209.20 L107.20,208.15 L108.70,207.12 L110.19,206.11 L111.68,205.11 L113.18,204.12 L114.67,203.15 L116.16,202.19 L117.66,201.24 L119.15,200.31 L120.65,199.39 L122.14,198.48 L123.63,197.58 L125.13,196.70 L126.62,195.82 L128.11,194.95 L129.61,194.09 L131.10,193.24 L132.59,192.40 L134.09,191.56 L135.58,190.73 L137.08,189.90 L138.57,189.08 L140.06,188.25 L141.56,187.43 L143.05,186.60 L144.54,185.78 L146.04,184.95 L147.53,184.11 L149.03,183.27 L150.52,182.42 L152.01,181.56 L153.51,180.69 L155.00,179.81" fill="none" stroke="#333" stroke-width="1.9" stroke-dasharray="0.75 3.92"/>
<rect x="275.5" y="15.5" width="73.2" height="39" fill="#fff" stroke="#000" stroke-width="0.9"/>
<line x1="281" y1="22.6" x2="309.7" y2="22.6" stroke="#000" stroke-width="1.2"/>
<line x1="281" y1="35.0" x2="309.7" y2="35.0" stroke="#000" stroke-width="1.9"/>
<line x1="281" y1="47.0" x2="309.7" y2="47.0" stroke="#000" stroke-width="2.6"/>
<text x="313.00" y="26.60" textLength="15.60" lengthAdjust="spacingAndGlyphs">900</text>
<text x="329.60" y="26.60">°</text>
<text x="334.60" y="26.60">C</text>
<text x="313.00" y="38.90" textLength="21.40" lengthAdjust="spacingAndGlyphs">1000</text>
<text x="335.20" y="38.90">°</text>
<text x="340.20" y="38.90">C</text>
<text x="313.00" y="50.60" textLength="21.40" lengthAdjust="spacingAndGlyphs">1100</text>
<text x="335.20" y="50.60">°</text>
<text x="340.20" y="50.60">C</text>
<text x="196.30" y="284.10" text-anchor="middle" textLength="62.00" lengthAdjust="spacingAndGlyphs">True Strain [–]</text>
<text transform="translate(10.8,135.25) rotate(-90)" text-anchor="middle" textLength="67.60" lengthAdjust="spacingAndGlyphs">Grain Size [µm]</text>
<line x1="446.0" y1="10.5" x2="446.0" y2="261.0" stroke="#000" stroke-width="0.7"/>
<line x1="445.5" y1="260.5" x2="763.0" y2="260.5" stroke="#505050" stroke-width="1"/>
<line x1="446.00" y1="260.5" x2="446.00" y2="258.9" stroke="#000" stroke-width="0.7"/>
<line x1="467.98" y1="260.5" x2="467.98" y2="258.9" stroke="#000" stroke-width="0.7"/>
<line x1="485.93" y1="260.5" x2="485.93" y2="258.9" stroke="#000" stroke-width="0.7"/>
<line x1="501.11" y1="260.5" x2="501.11" y2="258.9" stroke="#000" stroke-width="0.7"/>
<line x1="514.26" y1="260.5" x2="514.26" y2="258.9" stroke="#000" stroke-width="0.7"/>
<line x1="525.86" y1="260.5" x2="525.86" y2="258.9" stroke="#000" stroke-width="0.7"/>
<line x1="536.24" y1="260.5" x2="536.24" y2="257.7" stroke="#000" stroke-width="0.7"/>
<line x1="604.50" y1="260.5" x2="604.50" y2="258.9" stroke="#000" stroke-width="0.7"/>
<line x1="644.43" y1="260.5" x2="644.43" y2="258.9" stroke="#000" stroke-width="0.7"/>
<line x1="672.76" y1="260.5" x2="672.76" y2="258.9" stroke="#000" stroke-width="0.7"/>
<line x1="694.74" y1="260.5" x2="694.74" y2="258.9" stroke="#000" stroke-width="0.7"/>
<line x1="712.69" y1="260.5" x2="712.69" y2="258.9" stroke="#000" stroke-width="0.7"/>
<line x1="727.87" y1="260.5" x2="727.87" y2="258.9" stroke="#000" stroke-width="0.7"/>
<line x1="741.02" y1="260.5" x2="741.02" y2="258.9" stroke="#000" stroke-width="0.7"/>
<line x1="752.62" y1="260.5" x2="752.62" y2="258.9" stroke="#000" stroke-width="0.7"/>
<line x1="763.00" y1="260.5" x2="763.00" y2="257.7" stroke="#000" stroke-width="0.7"/>
<line x1="446.0" y1="260.50" x2="447.6" y2="260.50" stroke="#000" stroke-width="0.7"/>
<line x1="446.0" y1="246.80" x2="447.6" y2="246.80" stroke="#000" stroke-width="0.7"/>
<line x1="446.0" y1="234.94" x2="447.6" y2="234.94" stroke="#000" stroke-width="0.7"/>
<line x1="446.0" y1="224.47" x2="447.6" y2="224.47" stroke="#000" stroke-width="0.7"/>
<line x1="446.0" y1="215.11" x2="448.8" y2="215.11" stroke="#000" stroke-width="0.7"/>
<line x1="446.0" y1="153.51" x2="447.6" y2="153.51" stroke="#000" stroke-width="0.7"/>
<line x1="446.0" y1="117.49" x2="447.6" y2="117.49" stroke="#000" stroke-width="0.7"/>
<line x1="446.0" y1="91.92" x2="447.6" y2="91.92" stroke="#000" stroke-width="0.7"/>
<line x1="446.0" y1="72.09" x2="447.6" y2="72.09" stroke="#000" stroke-width="0.7"/>
<line x1="446.0" y1="55.89" x2="447.6" y2="55.89" stroke="#000" stroke-width="0.7"/>
<line x1="446.0" y1="42.19" x2="447.6" y2="42.19" stroke="#000" stroke-width="0.7"/>
<line x1="446.0" y1="30.33" x2="447.6" y2="30.33" stroke="#000" stroke-width="0.7"/>
<line x1="446.0" y1="19.86" x2="447.6" y2="19.86" stroke="#000" stroke-width="0.7"/>
<line x1="446.0" y1="10.50" x2="448.8" y2="10.50" stroke="#000" stroke-width="0.7"/>
<text x="529.20" y="275.80">10</text><text x="540.60" y="271.00" style="font-size:6.5px;">5</text>
<text x="756.00" y="275.80">10</text><text x="767.40" y="271.00" style="font-size:6.5px;">6</text>
<text x="425.00" y="13.50">10</text><text x="436.40" y="8.70" style="font-size:6.5px;">−2</text>
<text x="425.00" y="218.11">10</text><text x="436.40" y="213.31" style="font-size:6.5px;">−3</text>
<line x1="446.00" y1="86.01" x2="736.07" y2="260.50" stroke="#e05050" stroke-width="0.85"/>
<circle cx="523.8" cy="108.6" r="2.85" fill="none" stroke="#3a3a3a" stroke-width="0.8"/>
<circle cx="508.8" cy="144.7" r="2.85" fill="none" stroke="#3a3a3a" stroke-width="0.8"/>
<circle cx="561.0" cy="149.0" r="2.85" fill="none" stroke="#3a3a3a" stroke-width="0.8"/>
<circle cx="584.2" cy="133.5" r="2.85" fill="none" stroke="#3a3a3a" stroke-width="0.8"/>
<circle cx="582.6" cy="185.5" r="2.85" fill="none" stroke="#3a3a3a" stroke-width="0.8"/>
<circle cx="619.1" cy="179.0" r="2.85" fill="none" stroke="#3a3a3a" stroke-width="0.8"/>
<circle cx="639.4" cy="215.2" r="2.85" fill="none" stroke="#3a3a3a" stroke-width="0.8"/>
<text x="604.40" y="287.40" text-anchor="middle" textLength="183.40" lengthAdjust="spacingAndGlyphs">Normalized Steady–State Grain Size (D/b)</text>
<text transform="translate(417.6,134.7) rotate(-90)" text-anchor="middle" textLength="165.60" lengthAdjust="spacingAndGlyphs">Normalized Steady–State Stress (σ/µ)</text>
<circle cx="606.3" cy="25" r="2.85" fill="none" stroke="#3a3a3a" stroke-width="0.8"/>
<text x="624.00" y="29.50" class="serif" style="font-size:17px;" textLength="119.70" lengthAdjust="spacingAndGlyphs">model prediction</text>
<line x1="592" y1="50.9" x2="621" y2="50.9" stroke="#e88" stroke-width="1.5"/>
<path d="M631.70,37.80 Q621.10,52.70 631.70,67.60 L631.95,67.30 Q624.35,52.70 631.95,38.10 Z" fill="#000"/>
<path d="M654.40,37.80 Q664.40,52.70 654.40,67.60 L654.15,67.30 Q661.15,52.70 654.15,38.10 Z" fill="#000"/>
<path d="M671.90,37.60 Q659.50,52.50 671.90,67.40 L672.15,67.10 Q662.75,52.50 672.15,37.90 Z" fill="#000"/>
<path d="M696.00,37.40 Q708.40,52.25 696.00,67.10 L695.75,66.80 Q705.15,52.25 695.75,37.70 Z" fill="#000"/>
<text x="635.40" y="51.00" class="serif" style="font-size:10.5px;font-style:italic;" textLength="7.00" lengthAdjust="spacingAndGlyphs">σ</text>
<text x="642.40" y="51.80" class="serif" style="font-size:7.3px;font-style:italic;" textLength="7.60" lengthAdjust="spacingAndGlyphs">ss</text>
<line x1="636" y1="53.1" x2="650.8" y2="53.1" stroke="#000" stroke-width="0.7"/>
<text x="639.20" y="61.60" class="serif" style="font-size:11.5px;font-style:italic;" textLength="7.40" lengthAdjust="spacingAndGlyphs">μ</text>
<text x="675.00" y="50.50" class="serif" style="font-size:11.5px;font-style:italic;" textLength="8.60" lengthAdjust="spacingAndGlyphs">D</text>
<line x1="677.6" y1="40.1" x2="681.4" y2="40.1" stroke="#000" stroke-width="0.7"/>
<text x="684.30" y="51.80" class="serif" style="font-size:7.3px;font-style:italic;" textLength="8.20" lengthAdjust="spacingAndGlyphs">ss</text>
<line x1="675.1" y1="53.1" x2="693" y2="53.1" stroke="#000" stroke-width="0.7"/>
<text x="681.30" y="62.40" class="serif" style="font-size:11.5px;font-style:italic;" textLength="6.00" lengthAdjust="spacingAndGlyphs">b</text>
<text x="704.80" y="43.40" class="serif" style="font-size:12px;" textLength="18.60" lengthAdjust="spacingAndGlyphs">2/3</text>
<line x1="728.7" y1="51.3" x2="739.4" y2="51.3" stroke="#000" stroke-width="0.85"/>
<line x1="728.7" y1="54.9" x2="739.4" y2="54.9" stroke="#000" stroke-width="0.85"/>
<text x="745.30" y="57.60" class="serif" style="font-size:16px;" textLength="8.30" lengthAdjust="spacingAndGlyphs">5</text>
<text x="188" y="318.7" font-family="Liberation Serif" font-size="17" text-anchor="middle" style="font-family:'Liberation Serif',serif;font-size:17px">(<tspan font-weight="bold">a</tspan>)</text>
<text x="597" y="318.7" font-family="Liberation Serif" font-size="17" text-anchor="middle" style="font-family:'Liberation Serif',serif;font-size:17px">(<tspan font-weight="bold">b</tspan>)</text>
</svg>
</body></html>
